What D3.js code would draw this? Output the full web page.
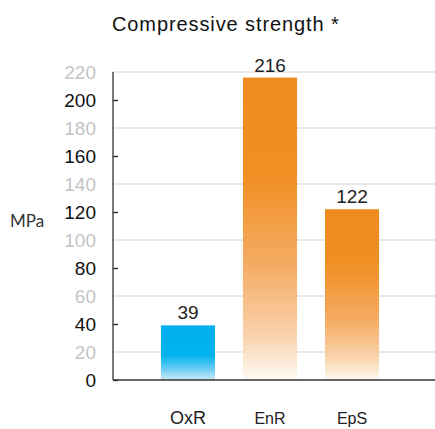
<!DOCTYPE html>
<html lang="en">
  <head>
    <meta charset="utf-8">
    <title>Compressive strength</title>
    <script src="https://d3js.org/d3.v7.min.js"></script>
    <style>
      body { margin: 0; background: #fff; }
    </style>
  </head>
  <body>
    <div id="chart"></div>
    <script>
      // data
      var categories = ["OxR", "EnR", "EpS"];
      var values = [39, 216, 122];
      var majorTicks = [0, 40, 80, 120, 160, 200];
      var minorTicks = [20, 60, 100, 140, 180, 220];

      var width = 435, height = 429;
      var margin = {top: 72, right: 0, bottom: 49, left: 113};

      var svg = d3.select("#chart").append("svg")
          .attr("width", width)
          .attr("height", height);

      var x = d3.scaleBand().domain(categories)
          .range([147, 393])
          .paddingInner(0.341).paddingOuter(0.17);
      var y = d3.scaleLinear().domain([0, 220])
          .range([height - margin.bottom, margin.top]);

      // gradients, one per bar
      var defs = svg.append("defs");
      var grads = [
        [[0, "#00aeef"], [0.55, "#00b4ee"], [0.8, "#6ccbf2"], [1, "#cdeaf9"]],
        [[0, "#f08b1e"], [0.33, "#f18f25"], [0.62, "#f4ac64"], [0.85, "#f9d2ab"], [1, "#fffaf4"]],
        [[0, "#f08b1e"], [0.3, "#f08e22"], [0.65, "#f4ab62"], [0.88, "#f9d6b0"], [1, "#fffaf4"]]
      ];
      grads.forEach(function(stops, i) {
        var g = defs.append("linearGradient")
            .attr("id", "grad" + i)
            .attr("x1", 0).attr("y1", 0).attr("x2", 0).attr("y2", 1);
        stops.forEach(function(s) {
          g.append("stop").attr("offset", s[0]).attr("stop-color", s[1]);
        });
      });

      // light gridlines at the grey (minor) values
      svg.selectAll(".grid")
          .data(minorTicks)
          .enter().append("line")
          .attr("x1", margin.left)
          .attr("x2", width)
          .attr("y1", function(d) { return y(d); })
          .attr("y2", function(d) { return y(d); })
          .attr("stroke", "#d4d4d4")
          .attr("stroke-width", 1.2);

      // bars
      svg.selectAll(".bar")
          .data(values)
          .enter().append("rect")
          .attr("x", function(d, i) { return x(categories[i]); })
          .attr("width", x.bandwidth())
          .attr("y", function(d) { return y(d); })
          .attr("height", function(d) { return y(0) - y(d); })
          .attr("fill", function(d, i) { return "url(#grad" + i + ")"; });

      // value labels
      svg.selectAll(".val")
          .data(values)
          .enter().append("text")
          .attr("x", function(d, i) { return x(categories[i]) + x.bandwidth() / 2; })
          .attr("y", function(d) { return y(d) - 6; })
          .attr("text-anchor", "middle")
          .attr("font-family", "Liberation Sans, Arial, sans-serif")
          .attr("font-size", 19)
          .attr("fill", "#222")
          .text(function(d) { return d; });

      // y axis line + major ticks
      var axis = svg.append("g")
          .attr("transform", "translate(" + margin.left + ",0)")
          .call(d3.axisRight(y).tickValues(majorTicks).tickSize(5).tickFormat(""));
      axis.select(".domain").attr("d", "M0," + y(220) + "V" + y(0))
          .attr("stroke", "#222").attr("stroke-width", 1.2);
      axis.selectAll(".tick line").attr("stroke", "#222").attr("stroke-width", 1.3);

      // tick labels, black for majors, grey for minors
      var allTicks = majorTicks.concat(minorTicks);
      svg.selectAll(".ylab")
          .data(allTicks)
          .enter().append("text")
          .attr("x", 96)
          .attr("y", function(d) { return y(d) + 7; })
          .attr("text-anchor", "end")
          .attr("font-family", "Liberation Sans, Arial, sans-serif")
          .attr("font-size", 19)
          .attr("fill", function(d) { return majorTicks.indexOf(d) >= 0 ? "#111" : "#c4c4c4"; })
          .text(function(d) { return d; });

      // baseline
      svg.append("line")
          .attr("x1", margin.left).attr("x2", width)
          .attr("y1", y(0)).attr("y2", y(0))
          .attr("stroke", "#333").attr("stroke-width", 1.5);

      // x labels
      svg.selectAll(".xlab")
          .data(categories)
          .enter().append("text")
          .attr("x", function(d) { return x(d) + x.bandwidth() / 2; })
          .attr("y", 424)
          .attr("text-anchor", "middle")
          .attr("font-family", "Liberation Sans, Arial, sans-serif")
          .attr("font-size", function(d, i) { return i == 0 ? 18 : 16; })
          .attr("fill", "#222")
          .text(function(d) { return d; });

      // y title
      svg.append("text")
          .attr("x", 10).attr("y", 227)
          .attr("font-family", "Lato, Noto Sans, sans-serif")
          .attr("font-size", 17)
          .attr("fill", "#333")
          .text("MPa");

      // chart title
      svg.append("text")
          .attr("x", 112).attr("y", 31)
          .attr("font-family", "Liberation Sans, Arial, sans-serif")
          .attr("font-size", 20)
          .attr("letter-spacing", 0.9)
          .attr("fill", "#111")
          .text("Compressive strength *");
    </script>
  </body>
</html>
